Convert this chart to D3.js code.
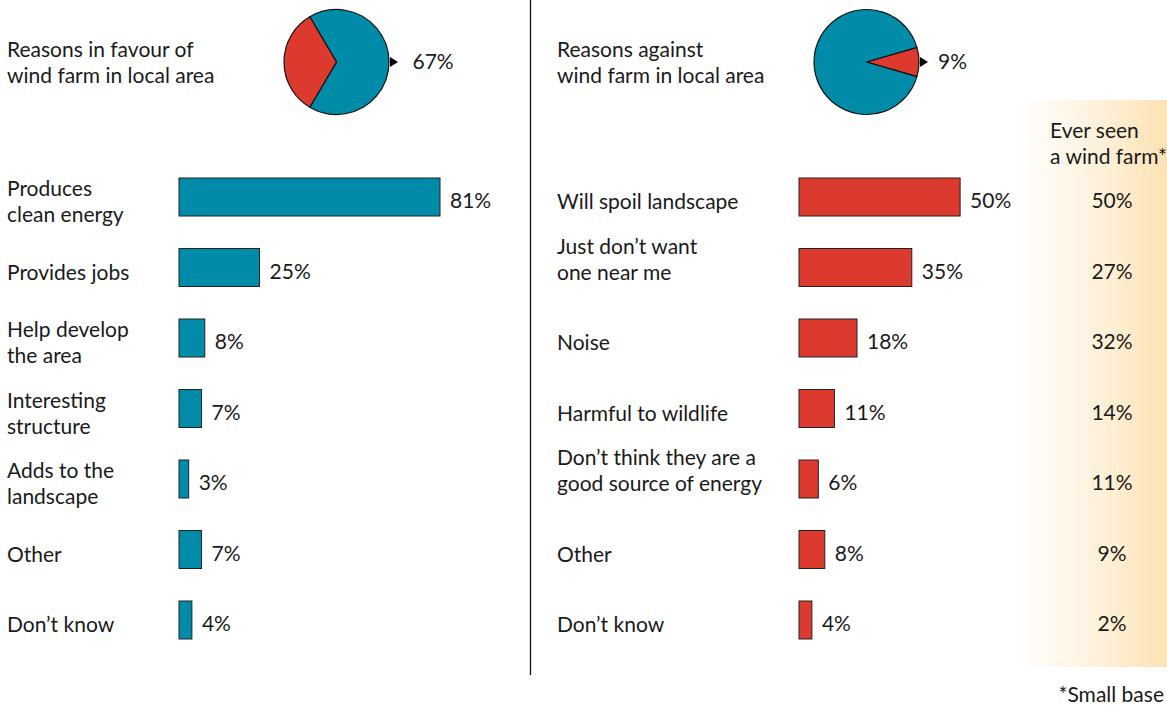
<!DOCTYPE html>
<html>
<head>
<meta charset="utf-8">
<script src="https://cdn.jsdelivr.net/npm/d3@7"></script>
<style>
  html, body { margin: 0; padding: 0; background: #fff; }
  svg { display: block; }
  text { font-family: Lato, "Open Sans", sans-serif; font-size: 21px; fill: #1a1a1a; }
</style>
</head>
<body>
<svg id="chart" width="1167" height="710"></svg>
<script>
// Survey data: reasons for and against a local wind farm
const favourTitle = ["Reasons in favour of", "wind farm in local area"];
const againstTitle = ["Reasons against", "wind farm in local area"];
const favourShare = 67;   // % giving reasons in favour
const againstShare = 9;   // % giving reasons against

const favourCats = [
  ["Produces", "clean energy"],
  ["Provides jobs"],
  ["Help develop", "the area"],
  ["Interesting", "structure"],
  ["Adds to the", "landscape"],
  ["Other"],
  ["Don\u2019t know"]
];
const favourVals = [81, 25, 8, 7, 3, 7, 4];

const againstCats = [
  ["Will spoil landscape"],
  ["Just don\u2019t want", "one near me"],
  ["Noise"],
  ["Harmful to wildlife"],
  ["Don\u2019t think they are a", "good source of energy"],
  ["Other"],
  ["Don\u2019t know"]
];
const againstVals = [50, 35, 18, 11, 6, 8, 4];

const everSeenTitle = ["Ever seen", "a wind farm*"];
const everSeenVals = [50, 27, 32, 14, 11, 9, 2];
const footnote = "*Small base";

const TEAL = "#008ba8";
const RED = "#dc3a2f";

const svg = d3.select("#chart");

// Shaded column for the "ever seen" subgroup
const defs = svg.append("defs");
const grad = defs.append("linearGradient").attr("id", "everSeenBg")
  .attr("x1", "0%").attr("x2", "100%").attr("y1", "0%").attr("y2", "0%");
grad.append("stop").attr("offset", "0%").attr("stop-color", "#ffffff");
grad.append("stop").attr("offset", "55%").attr("stop-color", "#fef1da");
grad.append("stop").attr("offset", "100%").attr("stop-color", "#fde2b3");
svg.append("rect").attr("x", 1018).attr("y", 100).attr("width", 149).attr("height", 567)
  .attr("fill", "url(#everSeenBg)");

// Divider between the two panels
svg.append("line").attr("x1", 530.5).attr("x2", 530.5).attr("y1", 0).attr("y2", 675)
  .attr("stroke", "#111").attr("stroke-width", 1.3);

// Shared scales
const rowIdx = d3.range(favourVals.length);
const y = d3.scalePoint().domain(rowIdx).range([197, 620]);
const barH = 38;
const x = d3.scaleLinear().domain([0, 81]).range([0, 261]);

function panel(opts) {
  const g = svg.append("g");

  // Title
  g.append("text").attr("x", opts.labelX).attr("y", 57)
    .selectAll("tspan").data(opts.title).join("tspan")
    .attr("x", opts.labelX).attr("dy", (d, i) => i === 0 ? 0 : 26).text(d => d);

  // Pie: highlighted share centred on the 3 o'clock direction
  const pieG = g.append("g").attr("transform", `translate(${opts.pieCx},62)`);
  const r = 52.5;
  const pie = d3.pie().sort(null).value(d => d.v)
    .startAngle(opts.startAngle).endAngle(opts.startAngle + 2 * Math.PI);
  const pieData = pie([{ v: opts.share, c: opts.shareColor }, { v: 100 - opts.share, c: opts.restColor }]);
  pieG.selectAll("path").data(pieData).join("path")
    .attr("d", d3.arc().innerRadius(0).outerRadius(r))
    .attr("fill", d => d.data.c)
    .attr("stroke", "#111").attr("stroke-width", 1.2).attr("stroke-linejoin", "round");
  // Pointer and percentage
  pieG.append("path").attr("d", `M${r + 1},-5 L${r + 9},0 L${r + 1},5 Z`).attr("fill", "#000");
  pieG.append("text").attr("x", opts.pctX).attr("y", 7).text(opts.share + "%");

  // Bars
  const rows = g.selectAll("g.row").data(opts.vals).join("g").attr("class", "row");
  rows.append("rect")
    .attr("x", opts.barX).attr("y", (d, i) => y(i) - barH / 2)
    .attr("width", d => x(d)).attr("height", barH)
    .attr("fill", opts.barColor).attr("stroke", "#222").attr("stroke-width", 1);
  rows.append("text")
    .attr("x", d => opts.barX + x(d) + 10).attr("y", (d, i) => y(i) + 11)
    .text(d => d + "%");

  // Category labels
  g.selectAll("text.cat").data(opts.cats).join("text").attr("class", "cat")
    .each(function (lines, i) {
      const t = d3.select(this);
      const base = lines.length === 1 ? y(i) + 12 : y(i) + opts.twoLineTop;
      lines.forEach((ln, j) => {
        t.append("tspan").attr("x", opts.labelX).attr("y", base + j * 26).text(ln);
      });
    });
}

panel({
  title: favourTitle, labelX: 7, pieCx: 336.5, share: favourShare,
  shareColor: TEAL, restColor: RED, startAngle: Math.PI / 2 - favourShare / 100 * Math.PI,
  pctX: 76, barX: 179, vals: favourVals, cats: favourCats, barColor: TEAL, twoLineTop: -1
});
panel({
  title: againstTitle, labelX: 557, pieCx: 866.5, share: againstShare,
  shareColor: RED, restColor: TEAL, startAngle: Math.PI / 2 - againstShare / 100 * Math.PI,
  pctX: 71.5, barX: 799, vals: againstVals, cats: againstCats, barColor: RED, twoLineTop: -14
});

// "Ever seen a wind farm" column
svg.append("text").attr("x", 1050).attr("y", 138)
  .selectAll("tspan").data(everSeenTitle).join("tspan")
  .attr("x", 1050).attr("dy", (d, i) => i === 0 ? 0 : 26).text(d => d);
svg.selectAll("text.ever").data(everSeenVals).join("text").attr("class", "ever")
  .attr("x", 1112).attr("y", (d, i) => y(i) + 11).attr("text-anchor", "middle")
  .text(d => d + "%");

svg.append("text").attr("x", 1164).attr("y", 702).attr("text-anchor", "end").text(footnote);
</script>
</body>
</html>
